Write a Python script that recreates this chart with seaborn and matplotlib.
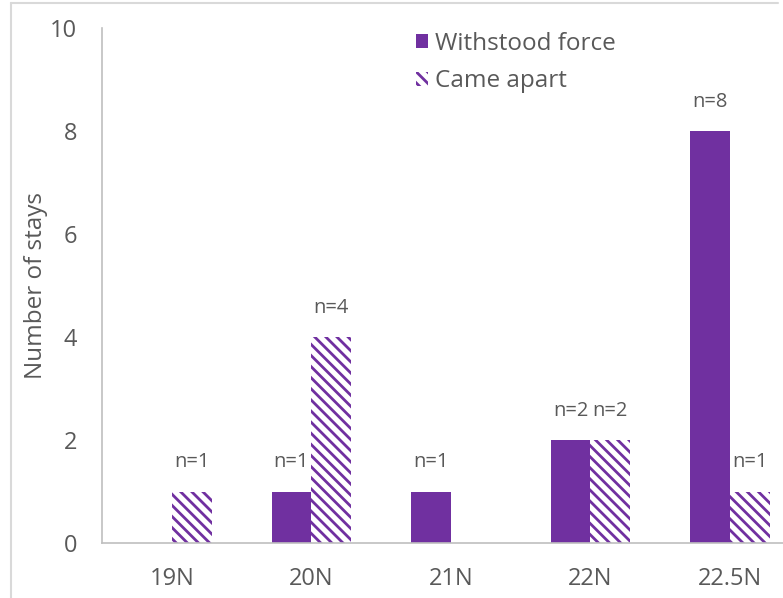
import matplotlib
matplotlib.use("Agg")
import matplotlib.pyplot as plt
from matplotlib.patches import Patch
from matplotlib.lines import Line2D
import seaborn as sns
import pandas as pd

# ---- data ----
categories = ["19N", "20N", "21N", "22N", "22.5N"]
withstood = [0, 1, 1, 2, 8]
came_apart = [1, 4, 0, 2, 1]
series_names = ["Withstood force", "Came apart"]
yticks = [0, 2, 4, 6, 8, 10]

PURPLE = "#7030A0"
TEXT = "#595959"
AXIS = "#bfbfbf"
HATCH = "\\\\\\"

sns.set_style("white")
plt.rcParams["font.family"] = ["Open Sans", "DejaVu Sans"]
plt.rcParams["hatch.linewidth"] = 2.0

df = pd.DataFrame({
    "force": categories * 2,
    "count": withstood + came_apart,
    "outcome": [series_names[0]] * len(categories) + [series_names[1]] * len(categories),
})

W, H = 783, 598
fig = plt.figure(figsize=(W / 100, H / 100), dpi=100)
ax = fig.add_axes([102 / W, (H - 543) / H, (W - 102) / W, (543 - 28) / H])

sns.barplot(data=df, x="force", y="count", hue="outcome", order=categories,
            hue_order=series_names, palette=[PURPLE, PURPLE], saturation=1,
            width=0.57, ax=ax, legend=False, errorbar=None)

# style hatched series
for p in ax.containers[1]:
    p.set_facecolor("white")
    p.set_edgecolor(PURPLE)
    p.set_linewidth(0)
    p.set_hatch(HATCH)
for p in ax.containers[0]:
    p.set_linewidth(0)

ax.set_xlim(-0.5, 4.38)
ax.set_ylim(0, 10)
ax.set_yticks(yticks)
ax.set_yticklabels([str(t) for t in yticks])
ax.set_xlabel("")
ax.set_ylabel("Number of stays", fontsize=17.5, color=TEXT)
ax.yaxis.set_label_coords(-0.079, 0.5)

ax.tick_params(axis="both", length=0, labelsize=17, labelcolor=TEXT)
ax.tick_params(axis="y", pad=18)
ax.tick_params(axis="x", pad=17)

for s in ["top", "right"]:
    ax.spines[s].set_visible(False)
for s in ["left", "bottom"]:
    ax.spines[s].set_color(AXIS)
    ax.spines[s].set_linewidth(1.2)

# data labels "n=.."
for cont in ax.containers:
    for p in cont:
        h = p.get_height()
        if h > 0:
            ax.annotate(f"n={int(h)}", (p.get_x() + p.get_width() / 2, h),
                        xytext=(0, 21), textcoords="offset points",
                        ha="center", va="center", fontsize=14.5, color=TEXT)

handles = [Patch(facecolor=PURPLE, edgecolor="none", linewidth=0),
           Patch(facecolor="white", edgecolor=PURPLE, linewidth=0, hatch=HATCH)]
fig.legend(handles, series_names, loc="upper left",
           bbox_to_anchor=(416 / W, 1 - 32 / H), frameon=False,
           fontsize=17.5, labelcolor=TEXT, handlelength=0.5, handleheight=0.5,
           handletextpad=0.3, labelspacing=0.55, borderpad=0, borderaxespad=0)

# outer chart border (top and left visible)
fig.add_artist(Line2D([11 / W, 778 / W], [1 - 3 / H, 1 - 3 / H],
                      transform=fig.transFigure, color="#d9d9d9", lw=1.5))
fig.add_artist(Line2D([11 / W, 11 / W], [0, 1 - 3 / H],
                      transform=fig.transFigure, color="#d9d9d9", lw=1.5))

fig.savefig("out.png", dpi=100)
